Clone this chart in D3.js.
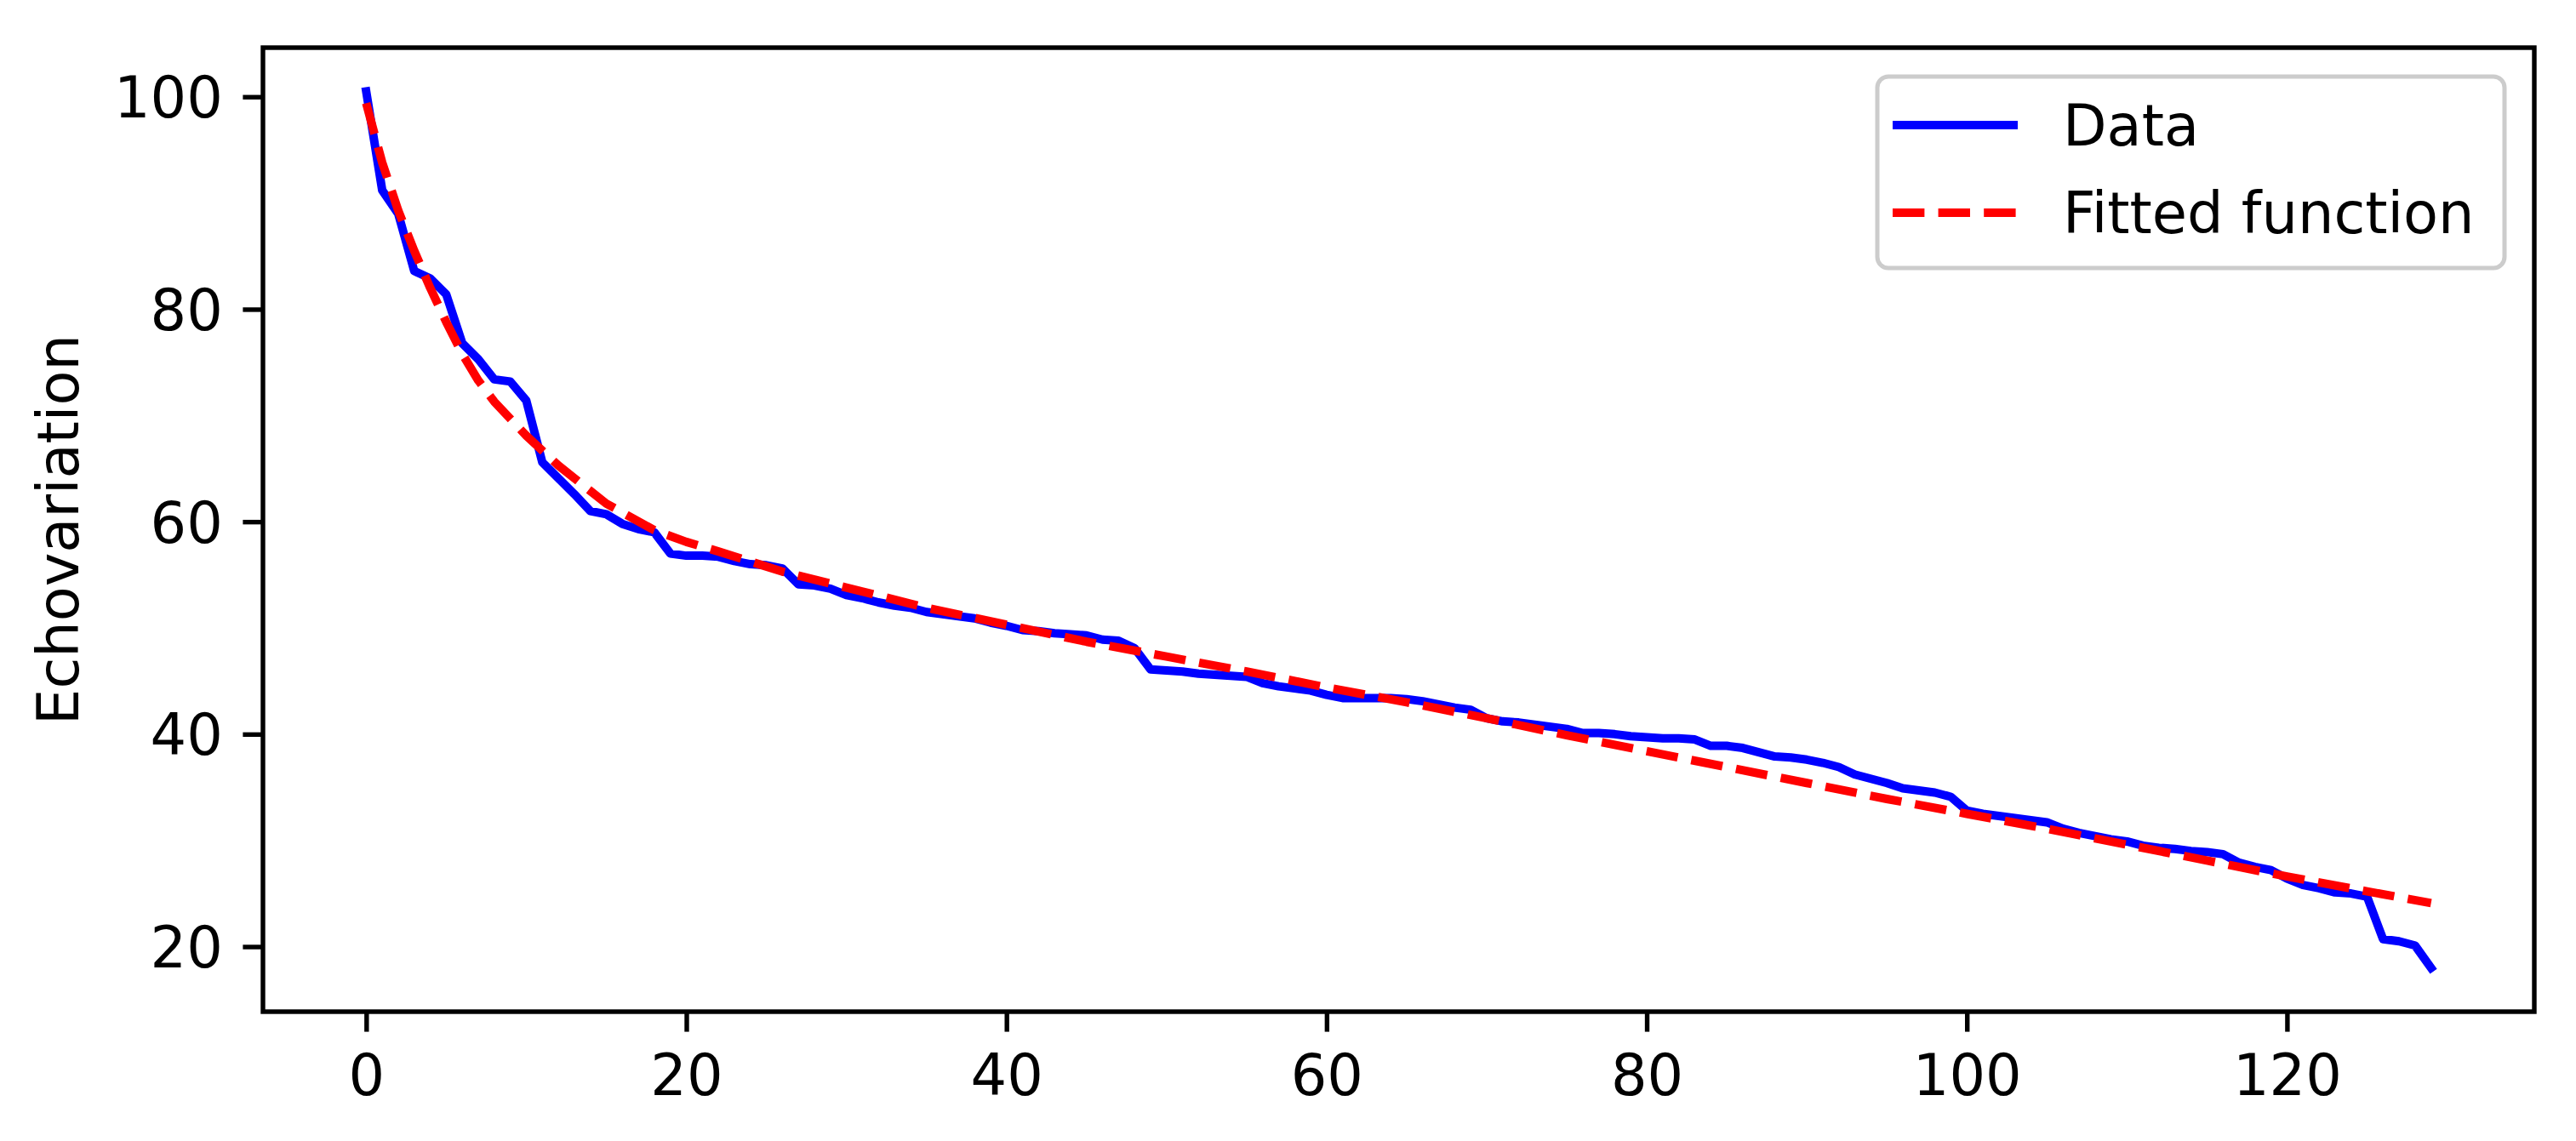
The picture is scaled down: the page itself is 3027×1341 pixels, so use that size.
<html>
<head>
  <title>Echovariation fit</title>
  <script type="text/javascript" src="https://d3js.org/d3.v7.min.js" charset="utf-8"></script>
  <style>
    body { margin: 0; background: #fff; }
    text { font-family: "DejaVu Sans", sans-serif; fill: #000; }
  </style>
</head>
<body>
<div id="container"></div>
<script>

    // measured values, index = x position 0..129
    var dataY = [100.5, 91.2, 89.0, 83.6, 82.9, 81.4, 76.8, 75.3, 73.4, 73.2,
                 71.4, 65.6, 64.1, 62.6, 61.0, 60.7, 59.8, 59.3, 59.0, 57.0,
                 56.8, 56.8, 56.7, 56.3, 56.0, 55.9, 55.6, 54.1, 54.0, 53.7,
                 53.1, 52.8, 52.4, 52.1, 51.9, 51.5, 51.3, 51.1, 50.9, 50.5,
                 50.2, 49.8, 49.7, 49.5, 49.4, 49.3, 48.9, 48.8, 48.1, 46.1,
                 46.0, 45.9, 45.7, 45.6, 45.5, 45.4, 44.8, 44.5, 44.3, 44.1,
                 43.7, 43.4, 43.4, 43.4, 43.4, 43.3, 43.1, 42.8, 42.5, 42.3,
                 41.5, 41.2, 41.1, 40.9, 40.7, 40.5, 40.1, 40.1, 40.0, 39.8,
                 39.7, 39.6, 39.6, 39.5, 38.9, 38.9, 38.7, 38.3, 37.9, 37.8,
                 37.6, 37.3, 36.9, 36.2, 35.8, 35.4, 34.9, 34.7, 34.5, 34.1,
                 32.8, 32.5, 32.3, 32.1, 31.9, 31.7, 31.1, 30.7, 30.4, 30.1,
                 29.9, 29.5, 29.3, 29.2, 29.0, 28.9, 28.7, 27.9, 27.5, 27.2,
                 26.4, 25.8, 25.5, 25.1, 25.0, 24.7, 20.7, 20.5, 20.1, 18.0]

    // fitted curve
    var fitX = [0, 1, 2, 3, 4, 5, 6, 7, 8, 10, 12, 15, 18, 20, 22, 26, 30, 35, 40, 45,
                50, 55, 60, 65, 70, 75, 80, 85, 90, 95, 100, 105, 110, 115, 120, 125, 129]
    var fitY = [99.4, 93.8, 89.3, 85.5, 82.0, 78.8, 75.8, 73.3, 71.3, 68.1, 65.3, 61.7, 59.2, 58.1, 57.2, 55.3, 53.8, 51.9, 50.3, 48.7,
                47.3, 45.9, 44.4, 43.0, 41.5, 39.9, 38.4, 36.9, 35.4, 33.9, 32.5, 31.1, 29.6, 28.1, 26.6, 25.2, 24.1]

    var xTicks = [0, 20, 40, 60, 80, 100, 120]
    var yTicks = [20, 40, 60, 80, 100]
    var yLabel = "Echovariation"
    var legendLabels = ["Data", "Fitted function"]

    var W = 3027, H = 1341
    var margin = { top: 56, right: 49, bottom: 152, left: 309 }
    var fs = 67, tickLen = 23.6, spineW = 5.4, lineW = 10

    var svg = d3.select("#container").append("svg")
        .attr("width", W).attr("height", H)
        .style("display", "block")

    svg.append("rect").attr("width", W).attr("height", H).attr("fill", "#fff")

    var n = dataY.length
    var xPad = (n - 1) * 0.05
    var x = d3.scaleLinear()
        .domain([-xPad, n - 1 + xPad])
        .range([margin.left, W - margin.right])

    var allY = dataY.concat(fitY)
    var yMin = d3.min(allY), yMax = d3.max(allY)
    var yPad = (yMax - yMin) * 0.05
    var y = d3.scaleLinear()
        .domain([yMin - yPad, yMax + yPad])
        .range([H - margin.bottom, margin.top])

    var clip = svg.append("clipPath").attr("id", "clip")
        .append("rect")
        .attr("x", margin.left).attr("y", margin.top)
        .attr("width", W - margin.left - margin.right)
        .attr("height", H - margin.top - margin.bottom)

    var line = d3.line()
        .x(function(d) { return x(d[0]) })
        .y(function(d) { return y(d[1]) })

    var dataPts = dataY.map(function(v, i) { return [i, v] })
    var fitPts = fitX.map(function(v, i) { return [v, fitY[i]] })

    var plot = svg.append("g").attr("clip-path", "url(#clip)")

    plot.append("path")
        .datum(dataPts)
        .attr("d", line)
        .attr("fill", "none")
        .attr("stroke", "#0000ff")
        .attr("stroke-width", lineW)
        .attr("stroke-linejoin", "round")
        .attr("stroke-linecap", "square")

    plot.append("path")
        .datum(fitPts)
        .attr("d", line)
        .attr("fill", "none")
        .attr("stroke", "#ff0000")
        .attr("stroke-width", lineW)
        .attr("stroke-dasharray", "37.4,16.2")
        .attr("stroke-linejoin", "round")

    // axes
    var xAxis = d3.axisBottom(x).tickValues(xTicks).tickSize(tickLen).tickPadding(tickLen)
    var yAxis = d3.axisLeft(y).tickValues(yTicks).tickSize(tickLen).tickPadding(tickLen)

    var gx = svg.append("g")
        .attr("transform", "translate(0," + (H - margin.bottom) + ")")
        .call(xAxis)
    var gy = svg.append("g")
        .attr("transform", "translate(" + margin.left + ",0)")
        .call(yAxis)

    ;[gx, gy].forEach(function(g) {
        g.select(".domain").remove()
        g.selectAll(".tick line").attr("stroke", "#000").attr("stroke-width", spineW)
        g.selectAll(".tick text")
            .attr("font-family", "DejaVu Sans")
            .attr("font-size", fs)
            .attr("fill", "#000")
    })
    gx.selectAll(".tick text").attr("dy", null).attr("y", tickLen * 2 + fs * 0.729 + 2)
    gy.selectAll(".tick text").attr("dy", "0.36em")

    // frame
    svg.append("rect")
        .attr("x", margin.left).attr("y", margin.top)
        .attr("width", W - margin.left - margin.right)
        .attr("height", H - margin.top - margin.bottom)
        .attr("fill", "none")
        .attr("stroke", "#000")
        .attr("stroke-width", spineW)

    svg.append("text")
        .attr("transform", "translate(92," + ((margin.top + H - margin.bottom) / 2) + ") rotate(-90)")
        .attr("text-anchor", "middle")
        .attr("font-size", fs)
        .text(yLabel)

    // legend
    var lg = svg.append("g")
    lg.append("rect")
        .attr("x", 2206).attr("y", 90)
        .attr("width", 737).attr("height", 225)
        .attr("rx", 13).attr("ry", 13)
        .attr("fill", "#fff").attr("fill-opacity", 0.8)
        .attr("stroke", "#cccccc").attr("stroke-width", 5)

    var rows = [
        { label: legendLabels[0], color: "#0000ff", dash: null, cy: 147 },
        { label: legendLabels[1], color: "#ff0000", dash: "37.4,16.2", cy: 250 }
    ]
    rows.forEach(function(r) {
        lg.append("line")
            .attr("x1", 2224).attr("x2", 2371)
            .attr("y1", r.cy).attr("y2", r.cy)
            .attr("stroke", r.color)
            .attr("stroke-width", lineW)
            .attr("stroke-dasharray", r.dash)
        lg.append("text")
            .attr("x", 2424).attr("y", r.cy)
            .attr("dy", "0.36em")
            .attr("font-size", fs)
            .text(r.label)
    })

</script>
</body>
</html>
